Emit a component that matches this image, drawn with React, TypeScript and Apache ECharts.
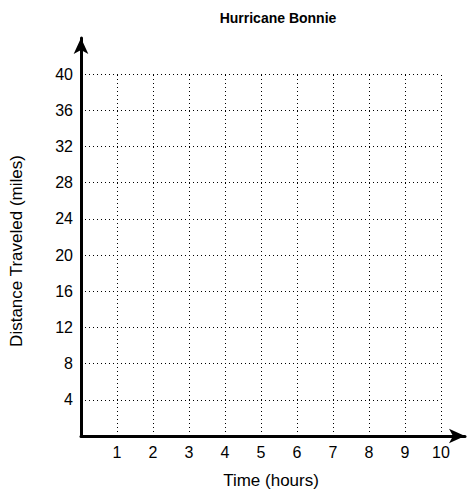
import React, { useEffect, useRef } from "react";
import * as echarts from "echarts";

const chartTitle = "Hurricane Bonnie";
const xAxisTitle = "Time (hours)";
const yAxisTitle = "Distance Traveled (miles)";
const xTicks = [1, 2, 3, 4, 5, 6, 7, 8, 9, 10];
const yTicks = [4, 8, 12, 16, 20, 24, 28, 32, 36, 40];
const xGridMax = 10;
const yGridMax = 40;
const xAxisEnd = 10.67;
const yAxisEnd = 44;

export default function App() {
  const ref = useRef<HTMLDivElement>(null);
  useEffect(() => {
    if (!ref.current) return;
    const chart = echarts.init(ref.current, undefined, { renderer: "svg" });
    const font = "Liberation Sans, Arial, Helvetica, sans-serif";
    const gridLines: any[] = [];
    yTicks.forEach((y) => gridLines.push([{ coord: [0, y] }, { coord: [xGridMax, y] }]));
    xTicks.forEach((x) => gridLines.push([{ coord: [x, 0] }, { coord: [x, yGridMax] }]));
    chart.setOption({
      animation: false,
      title: {
        text: chartTitle,
        left: 273,
        top: 6,
        textAlign: "center",
        textStyle: { fontFamily: font, fontSize: 14, fontWeight: "bold", color: "#000" },
      },
      grid: { left: 81, right: 4, top: 38, bottom: 53, containLabel: false },
      xAxis: {
        type: "value",
        min: 0,
        max: xAxisEnd,
        interval: 1,
        axisLine: {
          show: true,
          lineStyle: { color: "#000", width: 3 },
          symbol: ["none", "arrow"],
          symbolSize: [11, 16],
        },
        axisTick: { show: false },
        splitLine: { show: false },
        axisLabel: {
          margin: 8,
          fontFamily: font,
          fontSize: 16,
          color: "#000",
          formatter: (v: number) => (xTicks.includes(v) ? String(v) : ""),
        },
      },
      yAxis: {
        type: "value",
        min: 0,
        max: yAxisEnd,
        interval: 4,
        axisLine: {
          show: true,
          lineStyle: { color: "#000", width: 3 },
          symbol: ["none", "arrow"],
          symbolSize: [11, 16],
        },
        axisTick: { show: false },
        splitLine: { show: false },
        axisLabel: {
          margin: 8,
          fontFamily: font,
          fontSize: 16,
          color: "#000",
          formatter: (v: number) => (yTicks.includes(v) ? String(v) : ""),
        },
      },
      graphic: [
        {
          type: "text",
          x: 271,
          y: 472,
          style: {
            text: xAxisTitle,
            font: `17px ${font}`,
            fill: "#000",
            textAlign: "center",
            textVerticalAlign: "top",
          },
        },
        {
          type: "text",
          x: 8,
          y: 251,
          rotation: Math.PI / 2,
          style: {
            text: yAxisTitle,
            font: `17px ${font}`,
            fill: "#000",
            textAlign: "center",
            textVerticalAlign: "top",
          },
        },
      ],
      series: [
        {
          type: "line",
          data: [],
          silent: true,
          markLine: {
            silent: true,
            symbol: ["none", "none"],
            label: { show: false },
            lineStyle: { color: "#000", type: [1, 3], width: 1 },
            emphasis: { disabled: true },
            data: gridLines,
          },
        },
      ],
    });
    return () => chart.dispose();
  }, []);
  return <div ref={ref} style={{ width: 469, height: 489, position: "absolute", left: 0, top: 0 }} />;
}
